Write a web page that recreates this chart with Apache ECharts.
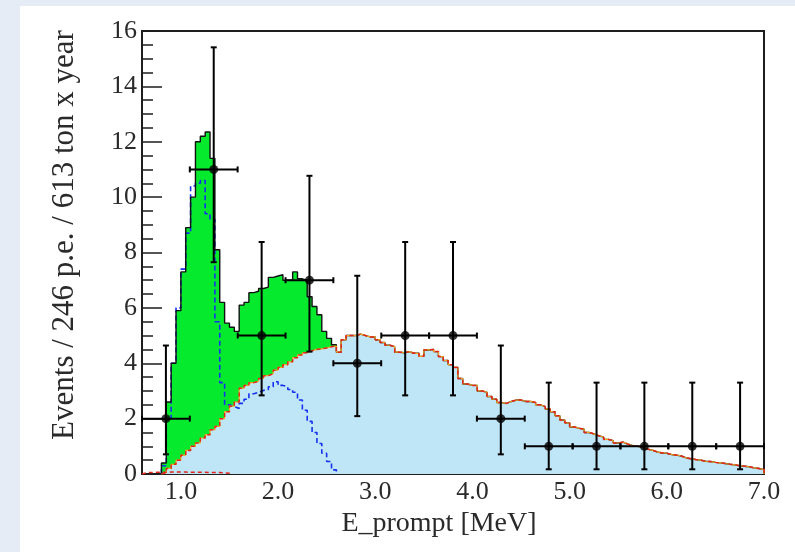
<!DOCTYPE html>
<html>
<head>
<meta charset="utf-8">
<script src="https://cdn.jsdelivr.net/npm/echarts@6/dist/echarts.min.js"></script>
<style>
  html, body { margin: 0; padding: 0; width: 795px; height: 552px; overflow: hidden; background: #E5ECF6; }
  #panel { position: absolute; left: 20px; top: 6px; width: 775px; height: 546px; background: #ffffff; }
  #chart { position: absolute; left: 0; top: 0; width: 795px; height: 552px; }
</style>
</head>
<body>
<div id="panel"></div>
<div id="chart"></div>
<script>
// ---- Fine-binned model spectra (bins of 0.05 MeV) ----
const BIN_WIDTH = 0.05;
const MODEL_START = 0.80;   // first bin of the fitted spectra
const LOWBKG_START = 0.60;  // first bin of the small low-energy component

// Background (light-blue fill), bins 0.80 ... 6.95 MeV
const bkgModel = [
  0.05, 0.20, 0.35, 0.50, 0.68, 0.85, 1.00, 1.12, 1.30, 1.42,
  1.60, 1.72, 2.00, 2.25, 2.45, 2.60, 3.10, 3.20, 3.30, 3.35,
  3.45, 3.55, 3.62, 3.75, 3.85, 3.95, 4.05, 4.20, 4.30, 4.38,
  4.45, 4.50, 4.52, 4.55, 4.60, 4.62, 4.40, 4.85, 5.00, 5.00,
  5.05, 5.00, 4.95, 4.95, 4.85, 4.75, 4.65, 4.60, 4.40, 4.38,
  4.42, 4.36, 4.36, 4.25, 4.48, 4.50, 4.42, 4.24, 4.10, 3.95,
  3.85, 3.45, 3.25, 3.20, 3.20, 3.00, 2.95, 2.80, 2.70, 2.58,
  2.55, 2.62, 2.67, 2.67, 2.62, 2.62, 2.58, 2.50, 2.43, 2.35,
  2.25, 2.10, 1.95, 1.85, 1.70, 1.65, 1.62, 1.50, 1.45, 1.38,
  1.33, 1.25, 1.20, 1.12, 1.15, 1.08, 1.02, 1.00, 0.97, 0.90,
  0.86, 0.80, 0.76, 0.75, 0.70, 0.68, 0.65, 0.58, 0.55, 0.52,
  0.50, 0.46, 0.45, 0.42, 0.40, 0.38, 0.35, 0.33, 0.30, 0.28,
  0.26, 0.22, 0.20, 0.16
];

// Signal stacked on top of the background (green fill), bins 0.80 ... 2.55 MeV
const signalModel = [
  0.35, 2.40, 3.65, 5.40, 6.62, 8.05, 9.00, 10.88, 10.90, 10.93,
  9.80, 6.38, 4.20, 3.20, 2.85, 2.55, 3.00, 3.00, 3.25, 3.25,
  3.25, 3.20, 3.48, 3.40, 3.35, 3.05, 2.95, 3.10, 2.75, 2.62,
  1.95, 1.55, 1.23, 0.60, 0.30, 0.05
];

// Single signal component drawn alone (blue dashed), bins 0.80 ... 2.55 MeV
const componentModel = [
  0.30, 2.00, 4.00, 6.00, 7.40, 8.70, 10.40, 10.50, 10.60, 9.40,
  9.20, 5.50, 3.30, 2.50, 2.43, 2.37, 2.55, 2.70, 2.90, 2.95,
  3.02, 3.05, 3.15, 3.33, 3.20, 3.15, 3.05, 2.95, 2.67, 2.30,
  1.90, 1.50, 1.10, 0.75, 0.45, 0.15
];

// Small low-energy component (red dashed), bins 0.60 ... 1.45 MeV
const lowBkgModel = [
  0.05, 0.05, 0.06, 0.06, 0.06, 0.07, 0.07, 0.07, 0.07, 0.06,
  0.06, 0.06, 0.06, 0.05, 0.05, 0.05, 0.04, 0.03
];

// ---- Measured events (bins of 246 p.e.) ----
const dataE      = [0.846, 1.338, 1.831, 2.323, 2.815, 3.308, 3.800, 4.292, 4.785, 5.277, 5.769, 6.262, 6.754];
const dataHalfW  = [0.246, 0.246, 0.246, 0.246, 0.246, 0.246, 0.246, 0.246, 0.246, 0.246, 0.246, 0.246, 0.246];
const dataCounts = [2, 11, 5, 7, 4, 5, 5, 2, 1, 1, 1, 1, 1];
const dataLower  = [0.71, 7.65, 2.84, 4.42, 2.09, 2.84, 2.84, 0.71, 0.17, 0.17, 0.17, 0.17, 0.17];
const dataUpper  = [4.64, 15.41, 8.38, 10.77, 7.16, 8.38, 8.38, 4.64, 3.30, 3.30, 3.30, 3.30, 3.30];

// ---- Axis ticks ----
const xMajorTicks = [1, 2, 3, 4, 5, 6, 7];
const xMinorTicks = [0.8, 1.2, 1.4, 1.6, 1.8, 2.2, 2.4, 2.6, 2.8, 3.2, 3.4, 3.6, 3.8,
                     4.2, 4.4, 4.6, 4.8, 5.2, 5.4, 5.6, 5.8, 6.2, 6.4, 6.6, 6.8];

// Histogram outline as step points: rise from 0, one flat top per bin, fall back to 0.
function stepPoints(start, values) {
  const pts = [[start, 0]];
  values.forEach((v, i) => pts.push([+(start + i * BIN_WIDTH).toFixed(4), v]));
  const end = +(start + values.length * BIN_WIDTH).toFixed(4);
  pts.push([end, values[values.length - 1]]);
  pts.push([end, 0]);
  return pts;
}

const totalModel = bkgModel.map((b, i) => +(b + (signalModel[i] || 0)).toFixed(3));

const FONT = 'Liberation Serif';
const TXT = '#2a2a2a';
const AX = '#1e1e1e';

const histLine = (name, data, extra) => Object.assign({
  name, type: 'line', step: 'end', data,
  xAxisIndex: 0, yAxisIndex: 0,
  symbol: 'none', showSymbol: false, silent: true, animation: false
}, extra);

const chart = echarts.init(document.getElementById('chart'), null, { renderer: 'canvas' });

chart.setOption({
  animation: false,
  backgroundColor: 'transparent',
  grid: { left: 142, right: 31, top: 31, bottom: 78, show: true, borderColor: AX, borderWidth: 2, backgroundColor: 'transparent' },
  xAxis: [
    {
      type: 'value', min: 0.6, max: 7.0, position: 'bottom',
      axisLine: { show: true, lineStyle: { color: AX, width: 2 } },
      axisTick: { show: true, inside: true, length: 11, customValues: xMajorTicks, lineStyle: { color: AX, width: 1.5 } },
      axisLabel: { customValues: xMajorTicks, formatter: v => v.toFixed(1), fontFamily: FONT, fontSize: 26, color: TXT, margin: 5 },
      splitLine: { show: false },
      name: 'E_prompt [MeV]', nameLocation: 'middle', nameGap: 36,
      nameTextStyle: { fontFamily: FONT, fontSize: 28, color: TXT, padding: [0, 28, 0, 0] }
    },
    {
      type: 'value', min: 0.6, max: 7.0, position: 'bottom',
      axisLine: { show: false },
      axisTick: { show: true, inside: true, length: 5, customValues: xMinorTicks, lineStyle: { color: AX, width: 1.5 } },
      axisLabel: { show: false },
      splitLine: { show: false }
    }
  ],
  yAxis: {
    type: 'value', min: 0, max: 16, interval: 2,
    axisLine: { show: true, lineStyle: { color: AX, width: 2 } },
    axisTick: { show: true, inside: true, length: 20, lineStyle: { color: AX, width: 1.5 } },
    minorTick: { show: true, splitNumber: 4, length: 11, lineStyle: { color: AX, width: 1.5 } },
    axisLabel: { fontFamily: FONT, fontSize: 26, color: TXT, margin: 5 },
    splitLine: { show: false },
    name: 'Events / 246 p.e. / 613 ton x year', nameLocation: 'middle', nameRotate: 90, nameGap: 62,
    nameTextStyle: { fontFamily: FONT, fontSize: 31, color: TXT, padding: [0, 0, 0, 35] }
  },
  series: [
    histLine('total-fill', stepPoints(MODEL_START, totalModel), {
      lineStyle: { width: 0 }, areaStyle: { color: '#06EA2E', opacity: 1 }, z: 1
    }),
    histLine('background-fill', stepPoints(MODEL_START, bkgModel), {
      lineStyle: { width: 0 }, areaStyle: { color: '#BFE6F6', opacity: 1 }, z: 2
    }),
    histLine('component', stepPoints(MODEL_START, componentModel), {
      lineStyle: { color: '#1630F0', width: 1.6, type: [5, 3] }, z: 3
    }),
    histLine('total', stepPoints(MODEL_START, totalModel), {
      lineStyle: { color: '#111111', width: 1.4 }, z: 4
    }),
    histLine('background-edge', stepPoints(MODEL_START, bkgModel), {
      lineStyle: { color: '#F2A81E', width: 1.2 }, z: 5
    }),
    histLine('background-edge-dash', stepPoints(MODEL_START, bkgModel), {
      lineStyle: { color: '#E3261C', width: 1.5, type: [4, 3] }, z: 6
    }),
    histLine('low-bkg', stepPoints(LOWBKG_START, lowBkgModel), {
      lineStyle: { color: '#E3261C', width: 1.5, type: [4, 3] }, z: 6
    }),
    {
      name: 'data-errors', type: 'custom', xAxisIndex: 0, yAxisIndex: 0, silent: true, animation: false, z: 10,
      data: dataE.map((e, i) => [e, dataCounts[i], dataLower[i], dataUpper[i], dataHalfW[i]]),
      renderItem: (params, api) => {
        const x = api.value(0), y = api.value(1), lo = api.value(2), hi = api.value(3), hw = api.value(4);
        const pHi = api.coord([x, hi]), pLo = api.coord([x, lo]);
        const pL = api.coord([x - hw, y]), pR = api.coord([x + hw, y]);
        const st = { stroke: '#000', lineWidth: 2 };
        const cap = 3;
        const seg = (x1, y1, x2, y2) => ({ type: 'line', shape: { x1, y1, x2, y2 }, style: st });
        return {
          type: 'group',
          children: [
            seg(pLo[0], pLo[1], pHi[0], pHi[1]),
            seg(pHi[0] - cap, pHi[1], pHi[0] + cap, pHi[1]),
            seg(pLo[0] - cap, pLo[1], pLo[0] + cap, pLo[1]),
            seg(pL[0], pL[1], pR[0], pR[1]),
            seg(pL[0], pL[1] - cap, pL[0], pL[1] + cap),
            seg(pR[0], pR[1] - cap, pR[0], pR[1] + cap)
          ]
        };
      }
    },
    {
      name: 'data', type: 'scatter', xAxisIndex: 0, yAxisIndex: 0, silent: true, animation: false, z: 11,
      symbol: 'circle', symbolSize: 9, itemStyle: { color: '#000' },
      data: dataE.map((e, i) => [e, dataCounts[i]])
    }
  ]
});
</script>
</body>
</html>
